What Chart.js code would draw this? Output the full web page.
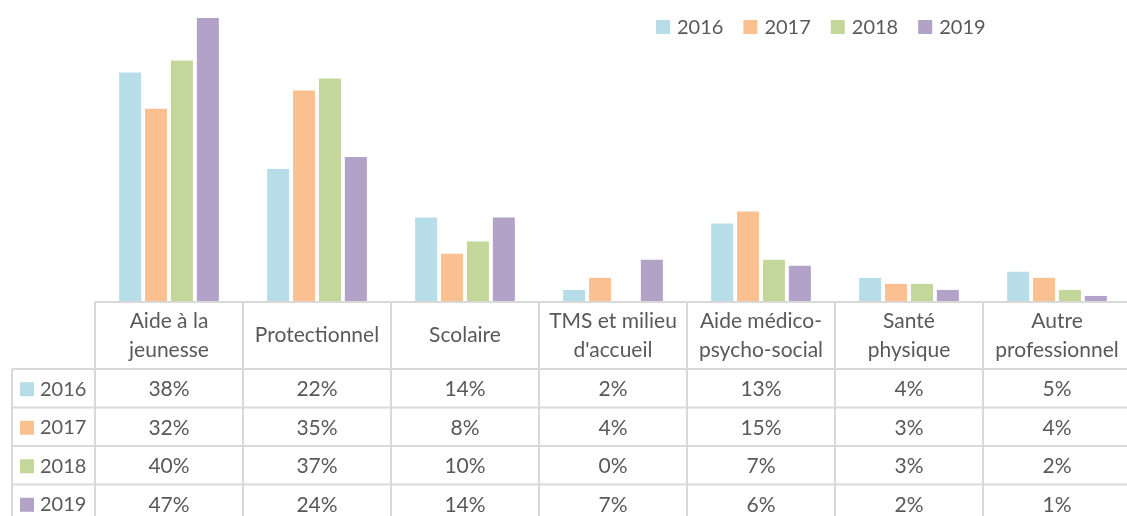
<!DOCTYPE html>
<html>
<head>
<meta charset="utf-8">
<script src="https://cdn.jsdelivr.net/npm/chart.js@4"></script>
<style>
  html, body { margin: 0; padding: 0; overflow: hidden; background: #fff; }
  #wrap { width: 1131px; height: 516px; position: relative; }
</style>
</head>
<body>
<div id="wrap"><canvas id="chart"></canvas></div>
<script>
// chart data
const categories = [
  ["Aide à la", "jeunesse"],
  ["Protectionnel"],
  ["Scolaire"],
  ["TMS et milieu", "d'accueil"],
  ["Aide médico-", "psycho-social"],
  ["Santé", "physique"],
  ["Autre", "professionnel"]
];
const years = ["2016", "2017", "2018", "2019"];
const values2016 = [38, 22, 14, 2, 13, 4, 5];
const values2017 = [32, 35, 8, 4, 15, 3, 4];
const values2018 = [40, 37, 10, 0, 7, 3, 2];
const values2019 = [47, 24, 14, 7, 6, 2, 1];
const seriesValues = [values2016, values2017, values2018, values2019];
const colors = ["#B7DDE8", "#FAC090", "#C4D79B", "#B3A2C7"];

const textColor = "#595959";
const lineColor = "#D9D9D9";
const font = "21px Lato, 'Open Sans', sans-serif";
const smallFont = "20px Lato, 'Open Sans', sans-serif";

// draws the legend on top and the data table under the bars
const tablePlugin = {
  id: "dataTable",
  afterDraw(chart) {
    const ctx = chart.ctx;
    const xs = chart.scales.x;
    const area = chart.chartArea;
    const colW = xs.width / categories.length;
    const top = area.bottom;
    const headerBottom = top + 67;
    const rowH = 38.5;
    const tableBottom = headerBottom + rowH * years.length;
    const left = 12;

    ctx.save();
    ctx.strokeStyle = lineColor;
    ctx.lineWidth = 2;

    // horizontal lines
    ctx.beginPath();
    ctx.moveTo(xs.left, top);
    ctx.lineTo(xs.right, top);
    for (let r = 0; r <= years.length; r++) {
      const y = headerBottom + r * rowH;
      ctx.moveTo(left, y);
      ctx.lineTo(xs.right, y);
    }
    // vertical lines
    for (let c = 0; c <= categories.length; c++) {
      const x = xs.left + c * colW;
      ctx.moveTo(x, top);
      ctx.lineTo(x, tableBottom);
    }
    ctx.moveTo(left, headerBottom);
    ctx.lineTo(left, tableBottom);
    ctx.stroke();

    ctx.font = font;
    ctx.fillStyle = textColor;
    ctx.textAlign = "center";
    ctx.textBaseline = "middle";

    // header labels
    categories.forEach((lines, i) => {
      const cx = xs.getPixelForValue(i);
      const mid = (top + headerBottom) / 2;
      const lh = 28.5;
      lines.forEach((line, j) => {
        const y = mid + (j - (lines.length - 1) / 2) * lh;
        ctx.fillText(line, cx, y);
      });
    });

    // rows
    years.forEach((year, r) => {
      const cy = headerBottom + r * rowH + rowH / 2 + 1;
      ctx.fillStyle = colors[r];
      ctx.fillRect(20, cy - 7, 14, 14);
      ctx.fillStyle = textColor;
      ctx.font = smallFont;
      ctx.textAlign = "left";
      ctx.fillText(year, 40, cy);
      ctx.font = font;
      ctx.textAlign = "center";
      seriesValues[r].forEach((v, i) => {
        ctx.fillText(v + "%", xs.getPixelForValue(i), cy);
      });
    });

    // legend
    ctx.font = smallFont;
    let lx = 656;
    const ly = 27;
    years.forEach((year, r) => {
      ctx.fillStyle = colors[r];
      ctx.fillRect(lx, ly - 7, 14, 14);
      ctx.fillStyle = textColor;
      ctx.textAlign = "left";
      ctx.fillText(year, lx + 21, ly + 1);
      lx += 21 + ctx.measureText(year).width + 20;
    });
    ctx.restore();
  }
};

new Chart(document.getElementById("chart"), {
  type: "bar",
  data: {
    labels: categories,
    datasets: years.map((year, i) => ({
      label: year,
      data: seriesValues[i],
      backgroundColor: colors[i],
      borderWidth: 0,
      barPercentage: 0.85,
      categoryPercentage: 0.70
    }))
  },
  options: {
    responsive: true,
    maintainAspectRatio: false,
    animation: false,
    layout: { padding: { left: 95, right: 0, top: 0, bottom: 214 } },
    plugins: {
      legend: { display: false },
      tooltip: { enabled: false }
    },
    scales: {
      x: {
        display: false
      },
      y: {
        display: false,
        min: 0,
        max: 50
      }
    }
  },
  plugins: [tablePlugin]
});
</script>
</body>
</html>
